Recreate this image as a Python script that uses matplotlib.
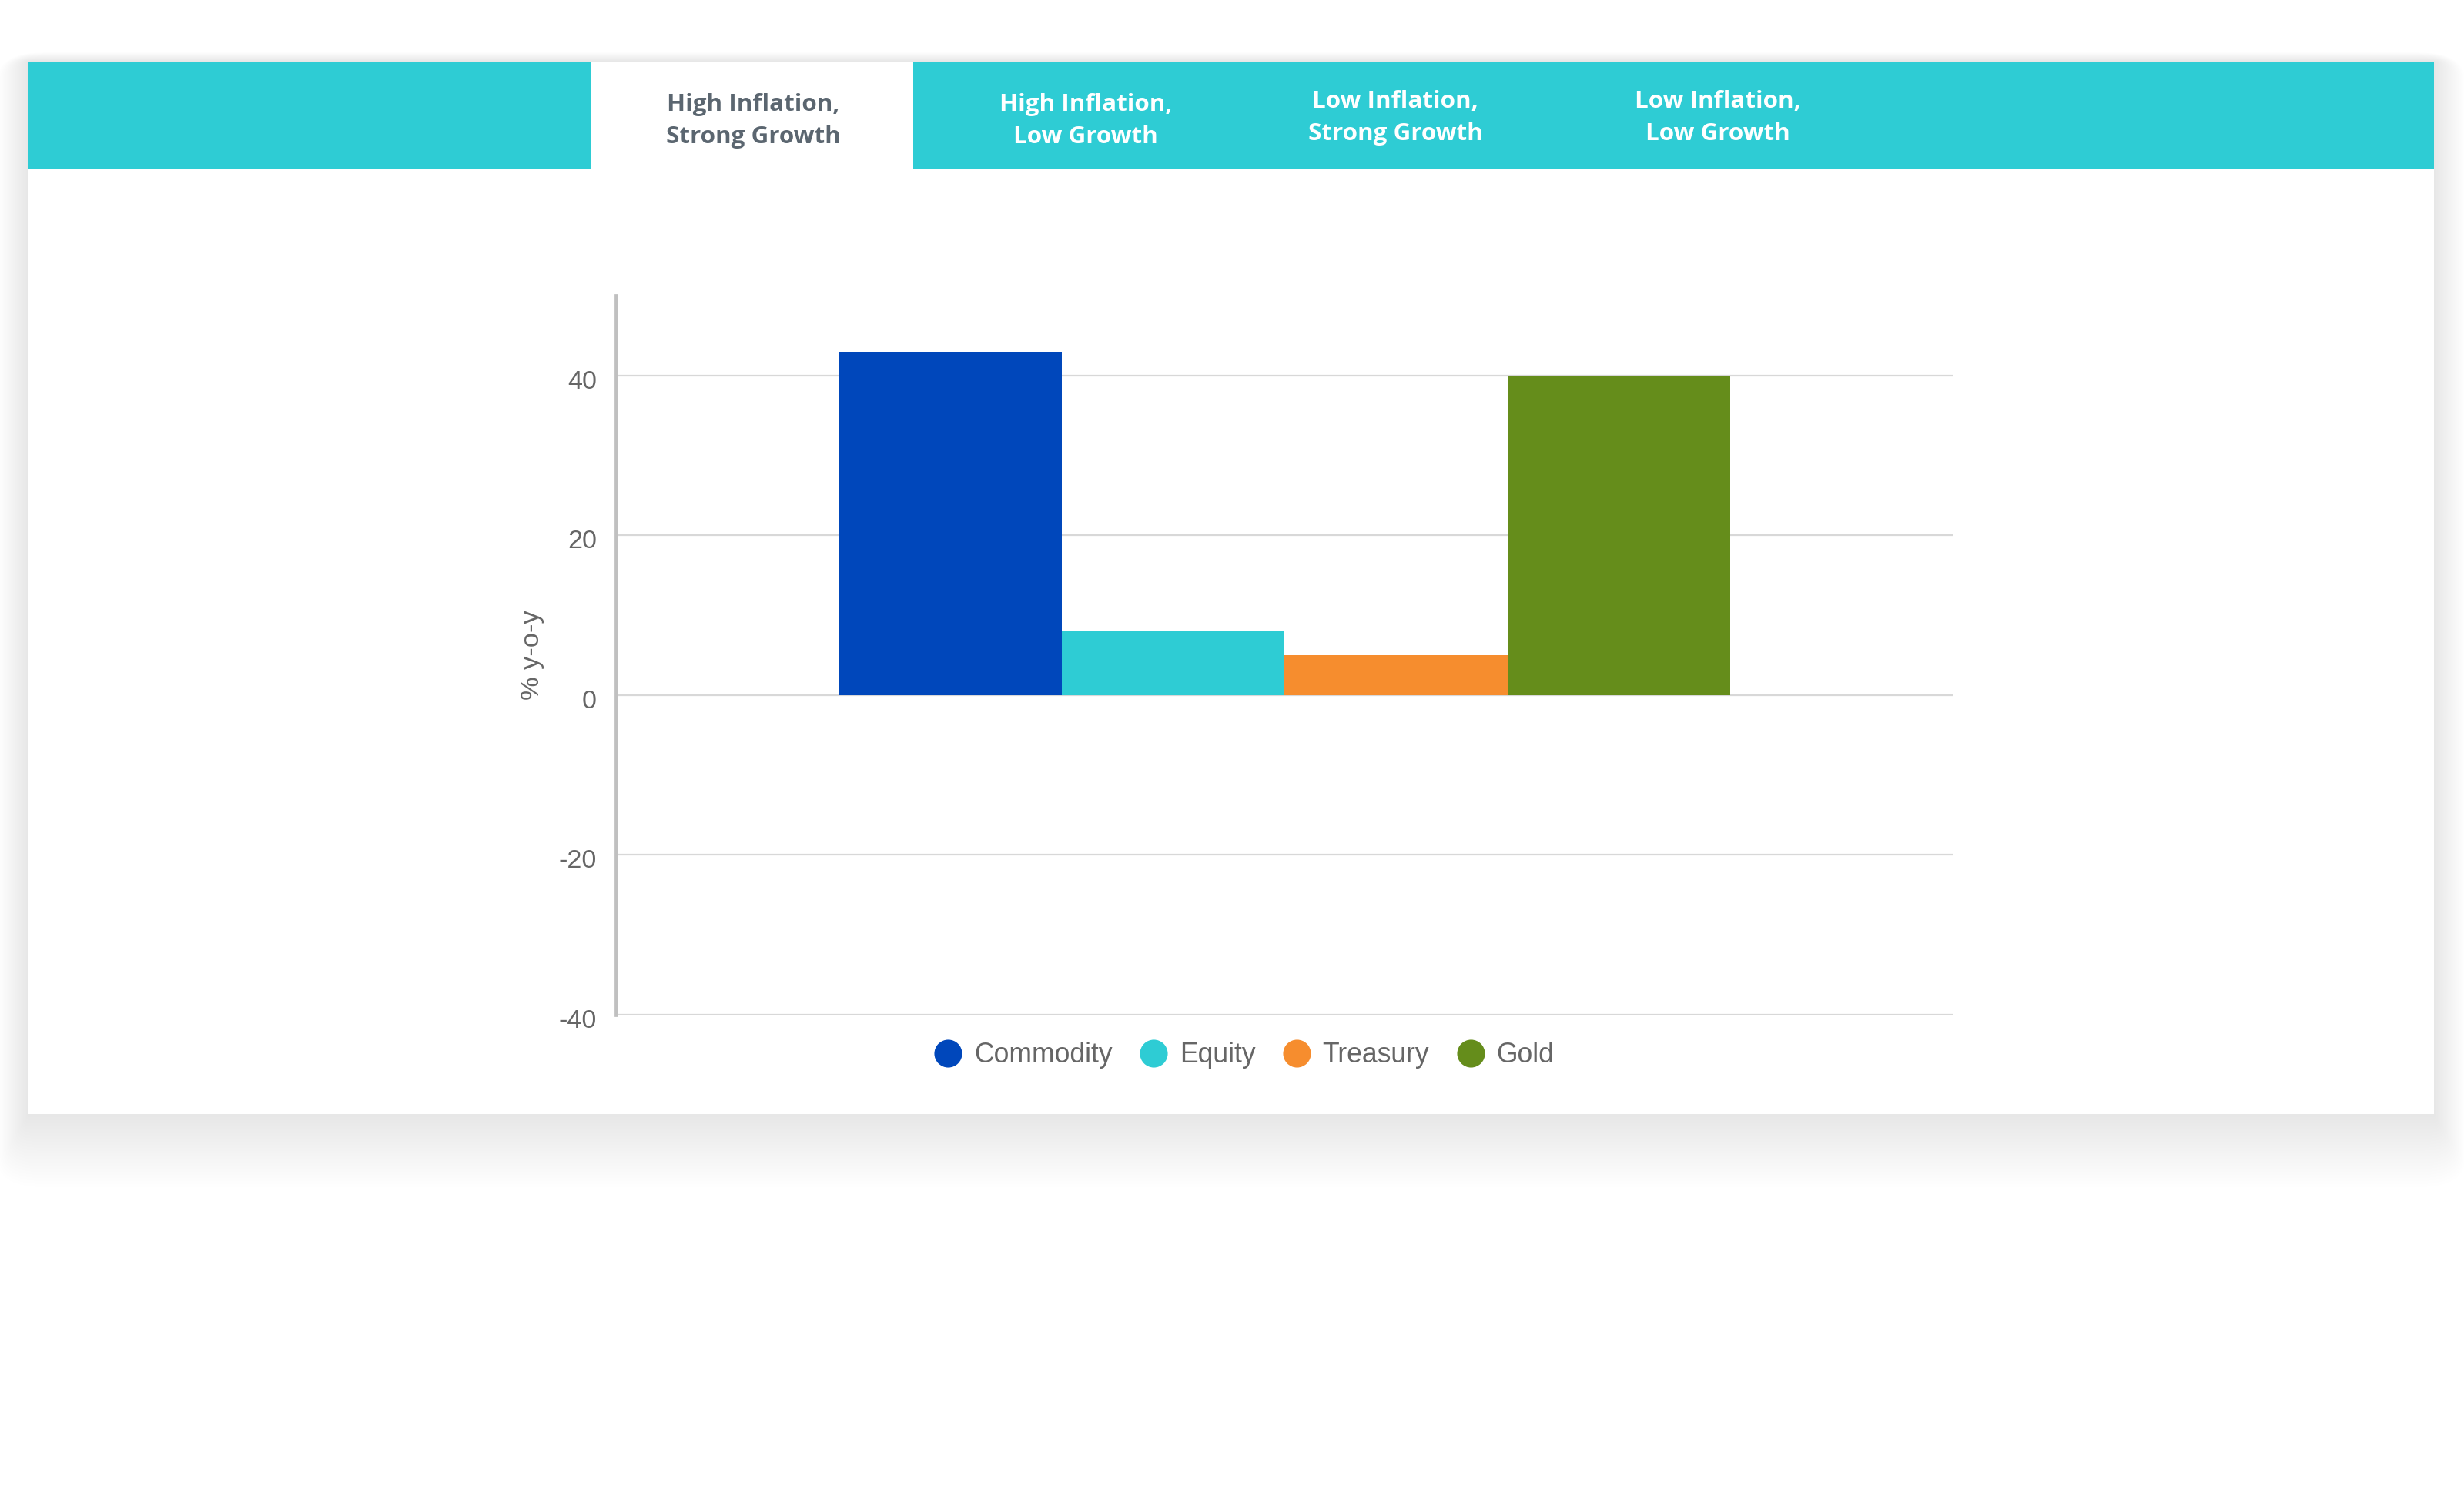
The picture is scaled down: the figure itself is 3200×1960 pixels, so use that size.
#!/usr/bin/env python3
# -*- coding: utf-8 -*-

import matplotlib
matplotlib.use('Agg')
import matplotlib.pyplot as plt
import matplotlib.transforms as mtransforms
from matplotlib.patches import Rectangle, FancyBboxPatch
from matplotlib.lines import Line2D

# data
series = ['Commodity', 'Equity', 'Treasury', 'Gold']
values = [43, 8, 5, 40]
colors = ['#0047BB', '#2ECCD4', '#F68D2E', '#658D1B']
yticks = [-40, -20, 0, 20, 40]
tabs = ['High Inflation,\nStrong Growth', 'High Inflation,\nLow Growth',
        'Low Inflation,\nStrong Growth', 'Low Inflation,\nLow Growth']
active_tab = 0

W, H = 3200, 1960


def fx(px):
    return px / W


def fy(py):
    return 1 - py / H


def draw_card(fig):
    # soft shadow round the card, heavier below it
    n = 24
    for k in range(n, 0, -1):
        side = 40 * k / n
        below = 95 * k / n
        fig.patches.append(FancyBboxPatch(
            (fx(37 - side), fy(1447 + below)), fx(3124 + 2 * side),
            fy(80 - side * 0.3) - fy(1447 + below),
            boxstyle='round,pad=0,rounding_size=%f' % (side / W * 1.5 + 1e-6),
            transform=fig.transFigure, facecolor='#34456a', edgecolor='none',
            alpha=0.0048, zorder=0))
    fig.patches.append(Rectangle((fx(37), fy(1447)), fx(3124), fy(80) - fy(1447),
                                 transform=fig.transFigure, facecolor='white',
                                 edgecolor='none', zorder=1))
    # header band with the active tab cut out
    fig.patches.append(Rectangle((fx(37), fy(219)), fx(3124), fy(80) - fy(219),
                                 transform=fig.transFigure, facecolor='#2ECCD4',
                                 edgecolor='none', zorder=2))
    fig.patches.append(Rectangle((fx(767), fy(219)), fx(419), fy(80) - fy(219),
                                 transform=fig.transFigure, facecolor='white',
                                 edgecolor='none', zorder=3))
    tab_x = [978, 1410, 1812, 2231]
    tab_y = [157, 157, 153, 153]
    for i, label in enumerate(tabs):
        c = '#5b6670' if i == active_tab else 'white'
        fig.text(fx(tab_x[i]), fy(tab_y[i]), label, ha='center', va='center',
                 fontsize=11.3, fontweight='bold', family='Open Sans',
                 color=c, linespacing=1.48, zorder=4)


def make_plot(fname='out.png'):
    plt.rcParams['font.family'] = ['Liberation Sans', 'DejaVu Sans']
    fig = plt.figure(figsize=(16, 9.8), dpi=200)
    fig.patch.set_facecolor('white')
    draw_card(fig)

    ax = fig.add_axes([0.25, 0.3276, 0.5428, 0.4765], zorder=5)
    ax.patch.set_alpha(0)
    w = 0.1665
    for i, (name, v) in enumerate(zip(series, values)):
        ax.bar((i - 1.5) * w, v, width=w, color=colors[i], label=name, zorder=3)

    ax.set_xlim(-0.5, 0.5)
    ax.set_ylim(-40, 50)
    ax.set_yticks(yticks)
    ax.set_yticklabels([str(t) for t in yticks])
    ax.set_xticks([])
    ax.tick_params(axis='y', length=0, pad=9, labelsize=12.3, labelcolor='#666666')
    # tick labels sit a little under their grid lines
    shift = mtransforms.ScaledTranslation(0, -1.8 / 72, fig.dpi_scale_trans)
    for lab in ax.get_yticklabels():
        lab.set_transform(lab.get_transform() + shift)
    ax.yaxis.grid(True, color='#D8D8D8', linewidth=0.8)
    ax.set_axisbelow(True)
    for s in ['top', 'right', 'bottom']:
        ax.spines[s].set_visible(False)
    ax.spines['left'].set_color('#C0C0C0')
    ax.spines['left'].set_linewidth(1.7)
    ax.set_ylabel('% y-o-y', fontsize=12.4, color='#666666')
    ax.yaxis.set_label_coords(-0.0535, 0.5)

    handles = [Line2D([], [], marker='o', linestyle='none', markersize=13,
                      markerfacecolor=c, markeredgecolor='none') for c in colors]
    leg = fig.legend(handles, series, loc='center', bbox_to_anchor=(0.5050, 0.3006),
                     ncol=4, frameon=False, fontsize=12.8, handlelength=1.0,
                     handletextpad=0.45, columnspacing=1.0)
    for t in leg.get_texts():
        t.set_color('#666666')
    leg.set_zorder(6)

    fig.savefig(fname, dpi=200)


if __name__ == "__main__":
    make_plot()
